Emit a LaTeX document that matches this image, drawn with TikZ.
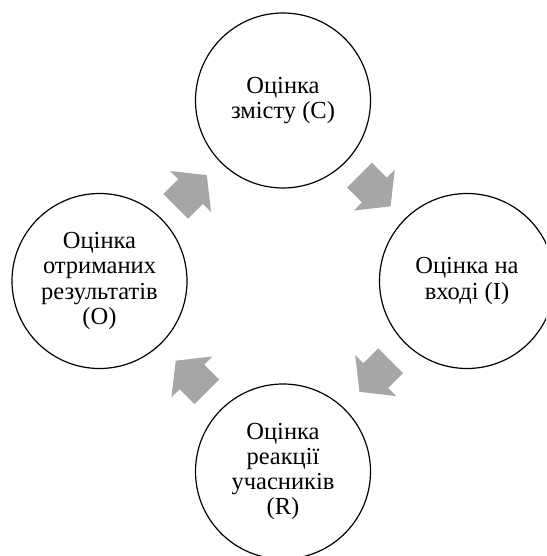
\documentclass[tikz,border=0pt]{standalone}
\usepackage{fontspec}
\setmainfont{Liberation Serif}
\usetikzlibrary{calc}
\definecolor{arrowgray}{RGB}{166,166,166}
\tikzset{
  stage/.style={circle, draw=black, line width=1.2pt, minimum size=175pt, inner sep=0pt,
    align=center, font=\fontsize{24.5pt}{25.3pt}\selectfont, fill=white},
  blockarrow/.style={fill=arrowgray, draw=none}
}
\begin{document}
\begin{tikzpicture}[x=1pt, y=-1pt]
  \useasboundingbox (0,0) rectangle (546,556);
  \clip (0,0) rectangle (546,556);
  \node[stage] (C) at (283,100.5) {Оцінка\\змісту (С)};
  \node[stage] (I) at (467,281) {Оцінка на\\вході (I)};
  \node[stage] (R) at (283,471.5) {Оцінка\\реакції\\учасників\\(R)};
  \node[stage] (O) at (99.5,281) {Оцінка\\отриманих\\результатів\\(О)};
  \coordinate (mCI) at ($(C)!0.5!(I)$);
  \coordinate (mIR) at ($(I)!0.5!(R)$);
  \coordinate (mRO) at ($(R)!0.5!(O)$);
  \coordinate (mOC) at ($(O)!0.5!(C)$);
  \foreach \m/\a in {mCI/-45, mIR/-135, mRO/135, mOC/45}{
    \fill[blockarrow, shift={(\m)}, rotate=\a]
      (-22,-17.5) -- (-1,-17.5) -- (-1,-29) -- (22,0) -- (-1,29) -- (-1,17.5) -- (-22,17.5) -- cycle;
  }
\end{tikzpicture}
\end{document}
